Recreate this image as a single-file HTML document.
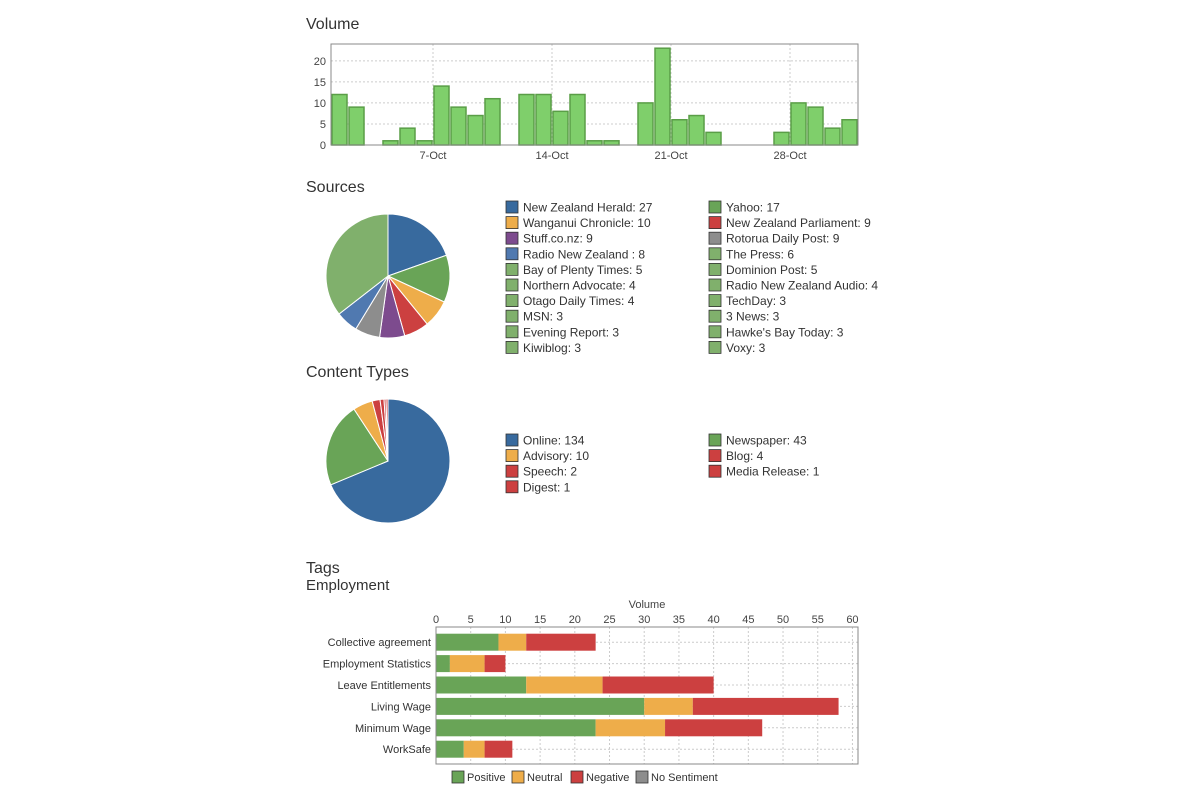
<!DOCTYPE html>
<html><head><meta charset="utf-8"><style>
body{margin:0;background:#fff;font-family:"Liberation Sans",sans-serif;}
svg{display:block}
</style></head><body>
<svg id="s" width="1200" height="800" xmlns="http://www.w3.org/2000/svg" font-family="Liberation Sans, sans-serif">
<text x="306" y="29" font-size="16" fill="#333">Volume</text>
<text x="306" y="192" font-size="16" fill="#333">Sources</text>
<text x="306" y="377" font-size="16" fill="#333">Content Types</text>
<text x="306" y="573" font-size="16" fill="#333">Tags</text>
<text x="306" y="590" font-size="15" fill="#333">Employment</text>
<g id="vol"></g><g id="src"></g><g id="ct"></g><g id="tags"></g>
</svg>
<script>
const volValues=[12,9,0,1,4,1,14,9,7,11,0,12,12,8,12,1,1,0,10,23,6,7,3,0,0,0,3,10,9,4,6];
const volTickLabels=["7-Oct","14-Oct","21-Oct","28-Oct"];
const volTickDays=[6,13,20,27];
const volYTicks=[0,5,10,15,20];

const srcNames=["New Zealand Herald: 27","Yahoo: 17","Wanganui Chronicle: 10","New Zealand Parliament: 9","Stuff.co.nz: 9","Rotorua Daily Post: 9","Radio New Zealand : 8","The Press: 6","Bay of Plenty Times: 5","Dominion Post: 5","Northern Advocate: 4","Radio New Zealand Audio: 4","Otago Daily Times: 4","TechDay: 3","MSN: 3","3 News: 3","Evening Report: 3","Hawke's Bay Today: 3","Kiwiblog: 3","Voxy: 3"];
const srcValues=[27,17,10,9,9,9,8,6,5,5,4,4,4,3,3,3,3,3,3,3];
const srcColors=["#386a9e","#69a457","#eead4a","#cc4040","#7d4b8e","#8d8d8d","#5079b0"];

const ctNames=["Online: 134","Newspaper: 43","Advisory: 10","Blog: 4","Speech: 2","Media Release: 1","Digest: 1"];
const ctValues=[134,43,10,4,2,1,1];
const ctColors=["#386a9e","#69a457","#eead4a","#cc4040","#cc4040","#cc4040","#cc4040"];

const tagCats=["Collective agreement","Employment Statistics","Leave Entitlements","Living Wage","Minimum Wage","WorkSafe"];
const tagPos=[9,2,13,30,23,4];
const tagNeu=[4,5,11,7,10,3];
const tagNeg=[10,3,16,21,14,4];
const tagXTicks=[0,5,10,15,20,25,30,35,40,45,50,55,60];

const NS="http://www.w3.org/2000/svg";
function mk(p,t,a,txt){const e=document.createElementNS(NS,t);for(const k in a)e.setAttribute(k,a[k]);if(txt!=null)e.textContent=txt;p.appendChild(e);return e;}

// Volume
(function(){
const g=document.getElementById('vol');
const x0=331,x1=858,y0=145,y1=44,ymax=24;
const dw=(x1-x0)/volValues.length;
const X=d=>x0+d*dw, Y=v=>y0-(v/ymax)*(y0-y1);
for(const t of volYTicks){
 if(t>0){const l=mk(g,'line',{x1:x0,x2:x1,y1:Y(t),y2:Y(t),stroke:'#ccc','stroke-dasharray':'2,2'});}
 const tx=mk(g,'text',{x:x0-5,y:Y(t)+4,'text-anchor':'end','font-size':11,fill:'#444'},t);
 
}
volTickDays.forEach((d,i)=>{
 const l=mk(g,'line',{x1:X(d),x2:X(d),y1:y1,y2:y0,stroke:'#ccc','stroke-dasharray':'2,2'});
 
 const tx=mk(g,'text',{x:X(d),y:y0+14,'text-anchor':'middle','font-size':11,fill:'#444'},volTickLabels[i]);
 
});
volValues.forEach((v,d)=>{ if(v<=0)return;
 const r=mk(g,'rect',{x:X(d)+1,y:Y(v),width:dw-2,height:y0-Y(v),fill:'#7fcf6b',stroke:'#5a9e47','stroke-width':1.5});
 
});
const f=mk(g,'rect',{x:x0,y:y1,width:x1-x0,height:y0-y1,fill:'none',stroke:'#888'});

})();

function pie(g,cx,cy,r,vals,cols,other){
 const tot=vals.reduce((a,b)=>a+b,0);let a=0;
 const slices=[];
 vals.forEach((v,i)=>{ if(i<cols.length)slices.push([v,cols[i]]); else { if(slices.length===cols.length)slices.push([0,other]); slices[cols.length][0]+=v; }});
 slices.forEach(([v,c])=>{
  const a2=a+v/tot*2*Math.PI;
  const p=(t)=>[cx+r*Math.sin(t),cy-r*Math.cos(t)];
  const [sx,sy]=p(a),[ex,ey]=p(a2);
  const s=mk(g,'path',{d:`M${cx},${cy}L${sx},${sy}A${r},${r} 0 ${a2-a>Math.PI?1:0} 1 ${ex},${ey}Z`,fill:c,stroke:'#fff','stroke-width':1});
  
  a=a2;
 });
}
function legend(g,names,colors,other,y0,dy){
 names.forEach((n,i)=>{
  const col=i%2,row=Math.floor(i/2);
  const x=col?709:506,y=y0+row*dy;
  const c=i<colors.length?colors[i]:other;
  const r=mk(g,'rect',{x:x,y:y,width:12,height:12,fill:c,stroke:'#333','stroke-width':0.8});
  
  const t=mk(g,'text',{x:x+17,y:y+10.5,'font-size':12,fill:'#333'},n);
  
 });
}
(function(){
 const g=document.getElementById('src');
 pie(g,388,276,62,srcValues,srcColors,'#80b06c');
 legend(g,srcNames,srcColors,'#80b06c',201,15.6);
 const g2=document.getElementById('ct');
 pie(g2,388,461,62,ctValues,ctColors,'#cc4040');
 legend(g2,ctNames,ctColors,'#cc4040',434,15.6);
})();

// Tags
(function(){
const g=document.getElementById('tags');
const x0=436,x1=858,xmax=60.8,y0=627,y1=764;
const X=v=>x0+v/xmax*(x1-x0);
const rowTop=631.5,rh=21.4;
const t0=mk(g,'text',{x:(x0+x1)/2,y:608,'text-anchor':'middle','font-size':11,fill:'#444'},'Volume');

tagXTicks.forEach(t=>{
 if(t>0){const l=mk(g,'line',{x1:X(t),x2:X(t),y1:y0,y2:y1,stroke:'#ccc','stroke-dasharray':'2,2'});}
 const tx=mk(g,'text',{x:X(t),y:623,'text-anchor':'middle','font-size':11,fill:'#444'},t);
 
});
tagCats.forEach((c,i)=>{
 const cy=rowTop+rh*(i+0.5);
 const l=mk(g,'line',{x1:x0,x2:x1,y1:cy,y2:cy,stroke:'#ccc','stroke-dasharray':'2,2'});
 
 const tx=mk(g,'text',{x:x0-5,y:cy+4,'text-anchor':'end','font-size':11,fill:'#333'},c);
 
 let acc=0;
 [[tagPos[i],'#69a457'],[tagNeu[i],'#eead4a'],[tagNeg[i],'#cc4040']].forEach(([v,col])=>{
  const r=mk(g,'rect',{x:X(acc),y:cy-8.5,width:X(acc+v)-X(acc),height:17,fill:col});
  
  acc+=v;
 });
});
const f=mk(g,'rect',{x:x0,y:y0,width:x1-x0,height:y1-y0,fill:'none',stroke:'#888'});

[['Positive','#69a457',452],['Neutral','#eead4a',512],['Negative','#cc4040',571],['No Sentiment','#8d8d8d',636]].forEach(([n,c,x])=>{
 const r=mk(g,'rect',{x:x,y:771,width:12,height:12,fill:c,stroke:'#333','stroke-width':0.8});
 
 const t=mk(g,'text',{x:x+15,y:781,'font-size':11,fill:'#333'},n);
 
});
})();
</script>
</body></html>
